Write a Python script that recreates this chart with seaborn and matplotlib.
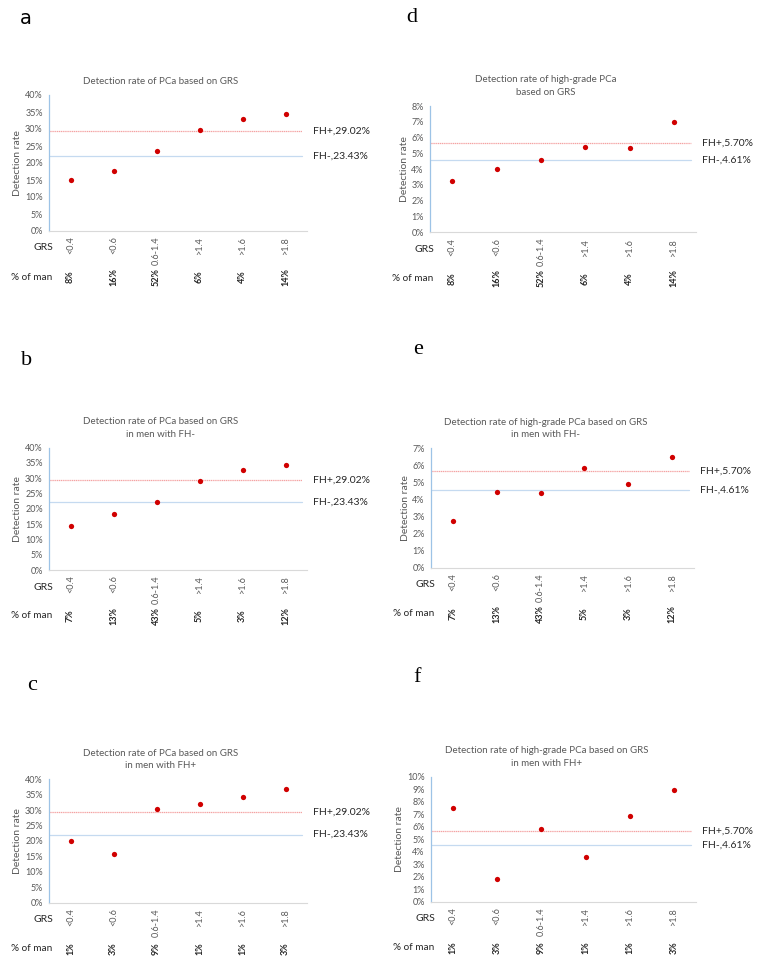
import numpy as np
import pandas as pd
import matplotlib
matplotlib.use("Agg")
import matplotlib.pyplot as plt
import seaborn as sns

sns.set_theme(style="white")
plt.rcParams['font.family'] = ['Lato', 'DejaVu Sans']

# ---------------- data ----------------
grs_labels = ["<0.4", "<0.6", "0.6-1.4", ">1.4", ">1.6", ">1.8"]

rate_a = [15.0, 17.7, 23.6, 29.7, 32.9, 34.5]
rate_b = [14.4, 18.3, 22.3, 29.2, 32.7, 34.2]
rate_c = [20.0, 15.9, 30.4, 32.1, 34.2, 36.7]
rate_d = [3.25, 4.0, 4.6, 5.38, 5.35, 6.98]
rate_e = [2.72, 4.42, 4.36, 5.85, 4.89, 6.51]
rate_f = [7.52, 1.79, 5.82, 3.6, 6.86, 8.96]

pct_a = ["8%", "16%", "52%", "6%", "4%", "14%"]
pct_b = ["7%", "13%", "43%", "5%", "3%", "12%"]
pct_c = ["1%", "3%", "9%", "1%", "1%", "3%"]
pct_d = ["8%", "16%", "52%", "6%", "4%", "14%"]
pct_e = ["7%", "13%", "43%", "5%", "3%", "12%"]
pct_f = ["1%", "3%", "9%", "1%", "1%", "3%"]

# reference lines (positions as drawn) and their labels
fh_all_lines = [29.4, 22.1]
fh_all_labels = ["FH+,29.02%", "FH-,23.43%"]
fh_hg_lines = [5.67, 4.56]
fh_hg_labels = ["FH+,5.70%", "FH-,4.61%"]

titles = {
    "a": "Detection rate of PCa based on GRS",
    "b": "Detection rate of PCa based on GRS\nin men with FH-",
    "c": "Detection rate of PCa based on GRS\nin men with FH+",
    "d": "Detection rate of high-grade PCa\nbased on GRS",
    "e": "Detection rate of high-grade PCa based on GRS\nin men with FH-",
    "f": "Detection rate of high-grade PCa based on GRS\nin men with FH+",
}

# ---------------- layout ----------------
W, H = 762, 969
fig = plt.figure(figsize=(W / 100, H / 100), dpi=100)

def box(l, r, top, bot):
    return [l / W, (H - bot) / H, (r - l) / W, (bot - top) / H]

panels = [
    ("a", box(49, 307, 95, 231), rate_a, pct_a, 40, 5, fh_all_lines, fh_all_labels, (20, 18), 'sans'),
    ("b", box(49, 307, 447.7, 570), rate_b, pct_b, 40, 5, fh_all_lines, fh_all_labels, (21, 360), 'serif'),
    ("c", box(49, 307, 779.3, 902.7), rate_c, pct_c, 40, 5, fh_all_lines, fh_all_labels, (27, 686), 'serif'),
    ("d", box(430, 696, 106, 232.3), rate_d, pct_d, 8, 1, fh_hg_lines, fh_hg_labels, (406, 18), 'serif'),
    ("e", box(431, 694, 448.3, 567.7), rate_e, pct_e, 7, 1, fh_hg_lines, fh_hg_labels, (413, 349), 'serif'),
    ("f", box(431, 696, 776.7, 901.7), rate_f, pct_f, 10, 1, fh_hg_lines, fh_hg_labels, (413, 677), 'serif'),
]

gray = "#595959"
dark = "#262626"
blue_axis = "#9DC3E6"

for key, rect, vals, pcts, ymax, ystep, lines, labels, lpos, lfam in panels:
    ax = fig.add_axes(rect)
    df = pd.DataFrame({"GRS": grs_labels, "rate": vals})
    sns.stripplot(data=df, x="GRS", y="rate", order=grs_labels, jitter=False,
                  color="#D00000", size=3.8, linewidth=0, ax=ax, zorder=3)
    ax.set_xlim(-0.5, 5.5)
    ax.set_ylim(0, ymax)
    yt = np.arange(0, ymax + ystep / 2, ystep)
    ax.set_yticks(yt)
    ax.set_yticklabels([f"{int(v)}%" for v in yt], fontsize=6.5, color=gray)
    ax.tick_params(axis='y', length=2.5, width=0.6, color=blue_axis, pad=2)
    ax.tick_params(axis='x', length=0, pad=4)
    ax.set_xticks(range(len(grs_labels)))
    ax.set_xticklabels(grs_labels, rotation=90, fontsize=6.5, color=gray)
    ax.set_xlabel("")
    ax.set_ylabel("Detection rate", fontsize=7.5, color=gray, labelpad=2)
    for s in ["top", "right"]:
        ax.spines[s].set_visible(False)
    ax.spines["left"].set_color(blue_axis)
    ax.spines["left"].set_linewidth(0.9)
    ax.spines["bottom"].set_color("#D9D9D9")
    ax.spines["bottom"].set_linewidth(0.8)
    ax.set_facecolor("none")

    # reference lines
    ax.axhline(lines[0], xmin=0, xmax=0.98, color="#F4A3A3", lw=0.9, ls=(0, (1, 0.5)), zorder=2)
    ax.axhline(lines[1], xmin=0, xmax=0.98, color="#C5DAF0", lw=0.9, zorder=2)
    for yv, lab in zip(lines, labels):
        ax.annotate(lab, xy=(1.0, yv), xycoords=('axes fraction', 'data'),
                    xytext=(6, 0), textcoords='offset pixels',
                    ha='left', va='center', fontsize=7.5, color=dark)

    # title (centred on the chart area, slightly left of the plot area)
    ax_w_px = rect[2] * W
    ax.set_title(titles[key], fontsize=7, color=gray, pad=8, linespacing=1.5,
                 x=0.5 - 17 / ax_w_px)

    # row labels
    ax.annotate("GRS", xy=(0, 0), xycoords='axes fraction', xytext=(4, -17),
                textcoords='offset pixels', ha='right', va='center',
                fontsize=7.5, color=dark)
    ax.annotate("% of man", xy=(0, 0), xycoords='axes fraction', xytext=(3, -46),
                textcoords='offset pixels', ha='right', va='center',
                fontsize=7.2, color=dark)
    for i, p in enumerate(pcts):
        ax.annotate(p, xy=(i, 0), xycoords=('data', 'axes fraction'),
                    xytext=(0, -46), textcoords='offset pixels', rotation=90,
                    ha='center', va='center', fontsize=6.5, color=dark,
                    fontweight='bold')

    # panel letter
    if lfam == 'sans':
        fig.text(lpos[0] / W, 1 - lpos[1] / H, key, fontsize=14, color="black",
                 family=['DejaVu Sans'], ha='left', va='center')
    else:
        fig.text(lpos[0] / W, 1 - lpos[1] / H, key, fontsize=16, color="black",
                 family=['Liberation Serif'], ha='left', va='center')

fig.savefig("out.png", dpi=100, facecolor="white")
